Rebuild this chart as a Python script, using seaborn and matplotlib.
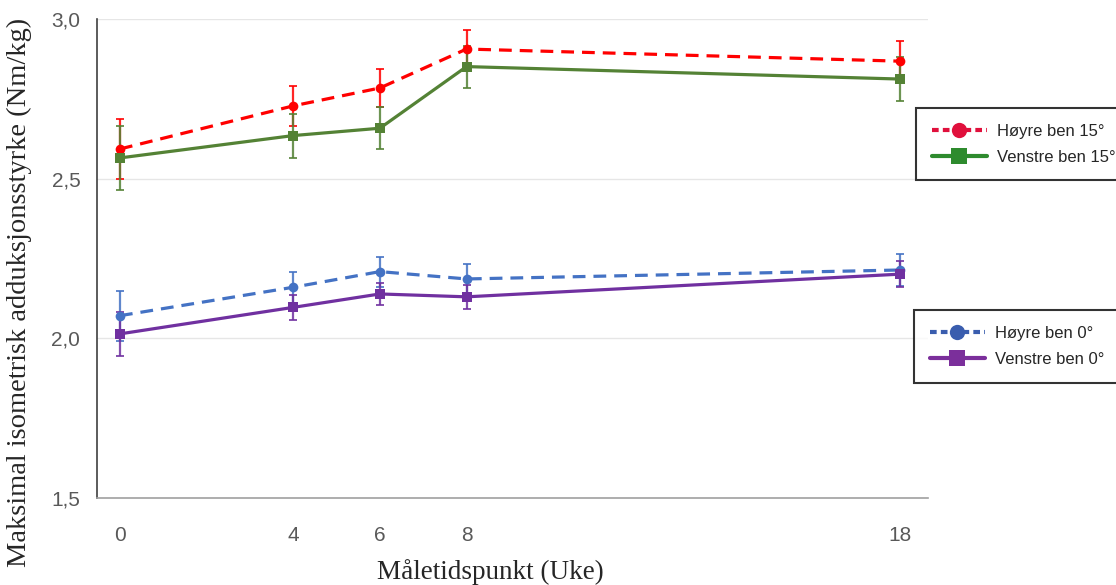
import numpy as np
import pandas as pd
import matplotlib
matplotlib.use('Agg')
import matplotlib.pyplot as plt
from matplotlib.lines import Line2D
import seaborn as sns

sns.set_theme(style="white")
plt.rcParams['font.family'] = ['Liberation Sans', 'DejaVu Sans']

# === ДАННЫЕ ===
weeks = [0, 4, 6, 8, 18]
hoyre_15 = [2.593, 2.728, 2.784, 2.906, 2.868]
hoyre_15_err = [0.095, 0.062, 0.058, 0.060, 0.064]
venstre_15 = [2.565, 2.635, 2.658, 2.851, 2.812]
venstre_15_err = [0.100, 0.069, 0.065, 0.066, 0.068]
hoyre_0 = [2.071, 2.160, 2.209, 2.186, 2.214]
hoyre_0_err = [0.078, 0.048, 0.047, 0.046, 0.050]
venstre_0 = [2.014, 2.097, 2.139, 2.130, 2.201]
venstre_0_err = [0.070, 0.038, 0.035, 0.037, 0.040]

labels = ['Høyre ben 15°', 'Venstre ben 15°', 'Høyre ben 0°', 'Venstre ben 0°']
yticks = [1.5, 2.0, 2.5, 3.0]
ytick_labels = ['1,5', '2,0', '2,5', '3,0']

series = [
    (hoyre_15, hoyre_15_err, '#FF0000', '#E0103C', True, 'o'),
    (venstre_15, venstre_15_err, '#548235', '#2E8B2E', False, 's'),
    (hoyre_0, hoyre_0_err, '#4472C4', '#3A5DAE', True, 'o'),
    (venstre_0, venstre_0_err, '#7030A0', '#7B2F9B', False, 's'),
]

fig = plt.figure(figsize=(11.16, 5.85), dpi=100)
ax = fig.add_axes([0.0869, 0.1487, 0.7446, 0.8188])

for (vals, errs, col, _, dashed, mk), lab in zip(series, labels):
    df = pd.DataFrame({'uke': weeks, 'verdi': vals})
    ax.errorbar(weeks, vals, yerr=errs, fmt='none', ecolor=col, elinewidth=1.6,
                capsize=3, capthick=1.4, alpha=0.85, zorder=2)
    ls = (0, (4, 2.5)) if dashed else '-'
    sns.lineplot(data=df, x='uke', y='verdi', ax=ax, color=col, linestyle=ls,
                 linewidth=2.3, marker=mk, markersize=7, markeredgewidth=0,
                 zorder=3, label=lab, legend=False)

ax.set_xlim(-0.53, 18.65)
ax.set_ylim(1.5, 3.0)
ax.set_xticks(weeks)
ax.set_xticklabels([str(w) for w in weeks])
ax.set_yticks(yticks)
ax.set_yticklabels(ytick_labels)
ax.tick_params(axis='x', length=0, pad=20, labelsize=15, labelcolor='#595959')
ax.tick_params(axis='y', length=0, pad=12, labelsize=15, labelcolor='#595959')

ax.grid(axis='y', color='#E6E6E6', linewidth=1)
ax.grid(axis='x', visible=False)
for s in ['top', 'right']:
    ax.spines[s].set_visible(False)
ax.spines['left'].set_color('#404040')
ax.spines['left'].set_linewidth(1.2)
ax.spines['bottom'].set_color('#A0A0A0')
ax.spines['bottom'].set_linewidth(1.2)

ax.set_xlabel('Måletidspunkt (Uke)', family=['Liberation Serif', 'DejaVu Serif'],
              fontsize=19.5)
ax.xaxis.set_label_coords(0.474, -0.127)
ax.set_ylabel('Maksimal isometrisk adduksjonsstyrke (Nm/kg)',
              family=['Liberation Serif', 'DejaVu Serif'], fontsize=20.5)
ax.yaxis.set_label_coords(-0.078, 0.43)

# Две отдельные легенды справа
def make_handles(idx):
    hs = []
    for i in idx:
        _, _, _, lcol, dashed, mk = series[i]
        ls = (0, (1.6, 1.0)) if dashed else '-'
        hs.append(Line2D([], [], color=lcol, linestyle=ls, linewidth=3,
                         marker=mk, markersize=11, markeredgewidth=0))
    return hs

leg_kw = dict(loc='upper left', frameon=True, fancybox=False, edgecolor='black',
              fontsize=12, handlelength=3.3, borderpad=0.95, labelspacing=0.65,
              handletextpad=0.6, borderaxespad=0)
leg1 = fig.legend(make_handles([0, 1]), labels[0:2], bbox_to_anchor=(0.8208, 0.8154), **leg_kw)
leg2 = fig.legend(make_handles([2, 3]), labels[2:4], bbox_to_anchor=(0.819, 0.47), **leg_kw)
for lg in (leg1, leg2):
    lg.get_frame().set_linewidth(1.5)

fig.savefig('out.png', dpi=100)
